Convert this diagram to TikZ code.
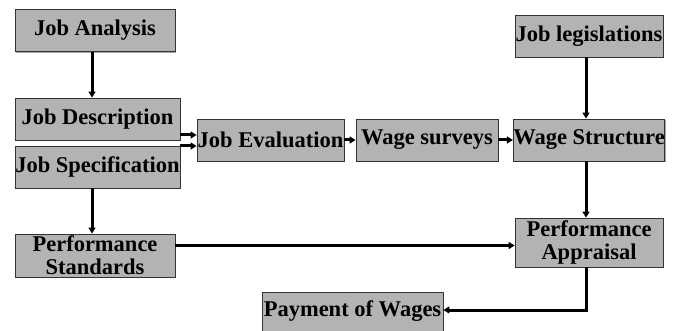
\documentclass[tikz,border=0pt]{standalone}
\usepackage{fontspec}
\setmainfont{Liberation Serif}
\usetikzlibrary{arrows.meta,shadows}
\definecolor{boxgray}{HTML}{B3B3B3}
\tikzset{
    box/.style =    {rectangle,
                    fill=boxgray,
                    draw=black!80,
                    text=black,
                    line width=0.8pt,
                    inner sep=0pt,
                    align=center,
                    font=\fontsize{22.5}{23}\selectfont\bfseries,
                    minimum height=42pt,
                    drop shadow={shadow xshift=1.2pt,shadow yshift=-1.2pt,fill=black!35,opacity=1}},
    flow/.style =   {line width=3pt,
                    -{Triangle[length=6pt,width=7pt]},
                    shorten >= 0pt},
    -,
    x=1pt, y=-1pt}

\begin{document}
\begin{tikzpicture}
                    \useasboundingbox (0,0) rectangle (676,331);
                    \node[box, minimum width=160pt]       (ja) at (95,30.5)     {Job Analysis};
                    \node[box, minimum width=165pt]       (jd) at (97.5,119)    {Job Description};
                    \node[box, minimum width=165pt]       (js) at (97.5,167)    {Job Specification};
                    \node[box, minimum width=147pt]       (je) at (270.5,140)   {Job Evaluation};
                    \node[box, minimum width=142pt]       (ws) at (427,140)     {Wage surveys};
                    \node[box, minimum width=148pt]       (wst) at (589,140)    {Wage Structure};
                    \node[box, minimum width=148pt]       (jl) at (589,36)      {Job legislations};
                    \node[box, minimum width=160pt, minimum height=43pt]  (ps) at (95,255.5)  {Performance\\Standards};
                    \node[box, minimum width=148pt, minimum height=49pt]  (pa) at (589,242.5)  {Performance\\Appraisal};
                    \node[box, minimum width=181pt, minimum height=39pt]  (pw) at (352.5,311.5) {Payment of Wages};
                    % exit points of the side arrows
                    \coordinate (jdout) at ([yshift=-16pt]jd.east);
                    \coordinate (jsout) at ([yshift=21pt]js.east);
                    \coordinate (psout) at ([yshift=10pt]ps.east);
                    \draw[flow] ([xshift=-3pt]ja.south) -- ([xshift=-3pt]ja.south |- jd.north);
                    \draw[flow] ([xshift=-5.5pt]js.south) -- ([xshift=-5.5pt]js.south |- ps.north);
                    \draw[flow] (jdout) -- (je.west |- jdout);
                    \draw[flow] (jsout) -- (je.west |- jsout);
                    \draw[flow] (je) -- (ws);
                    \draw[flow] (ws) -- (wst);
                    \draw[flow] ([xshift=-3pt]jl.south) -- ([xshift=-3pt]jl.south |- wst.north);
                    \draw[flow] ([xshift=-3pt]wst.south) -- ([xshift=-3pt]wst.south |- pa.north);
                    \draw[flow] (psout) -- (pa.west |- psout);
                    \draw[flow] ([xshift=-3pt]pa.south) |- ([yshift=1.5pt]pw.east);
\end{tikzpicture}
\end{document}
